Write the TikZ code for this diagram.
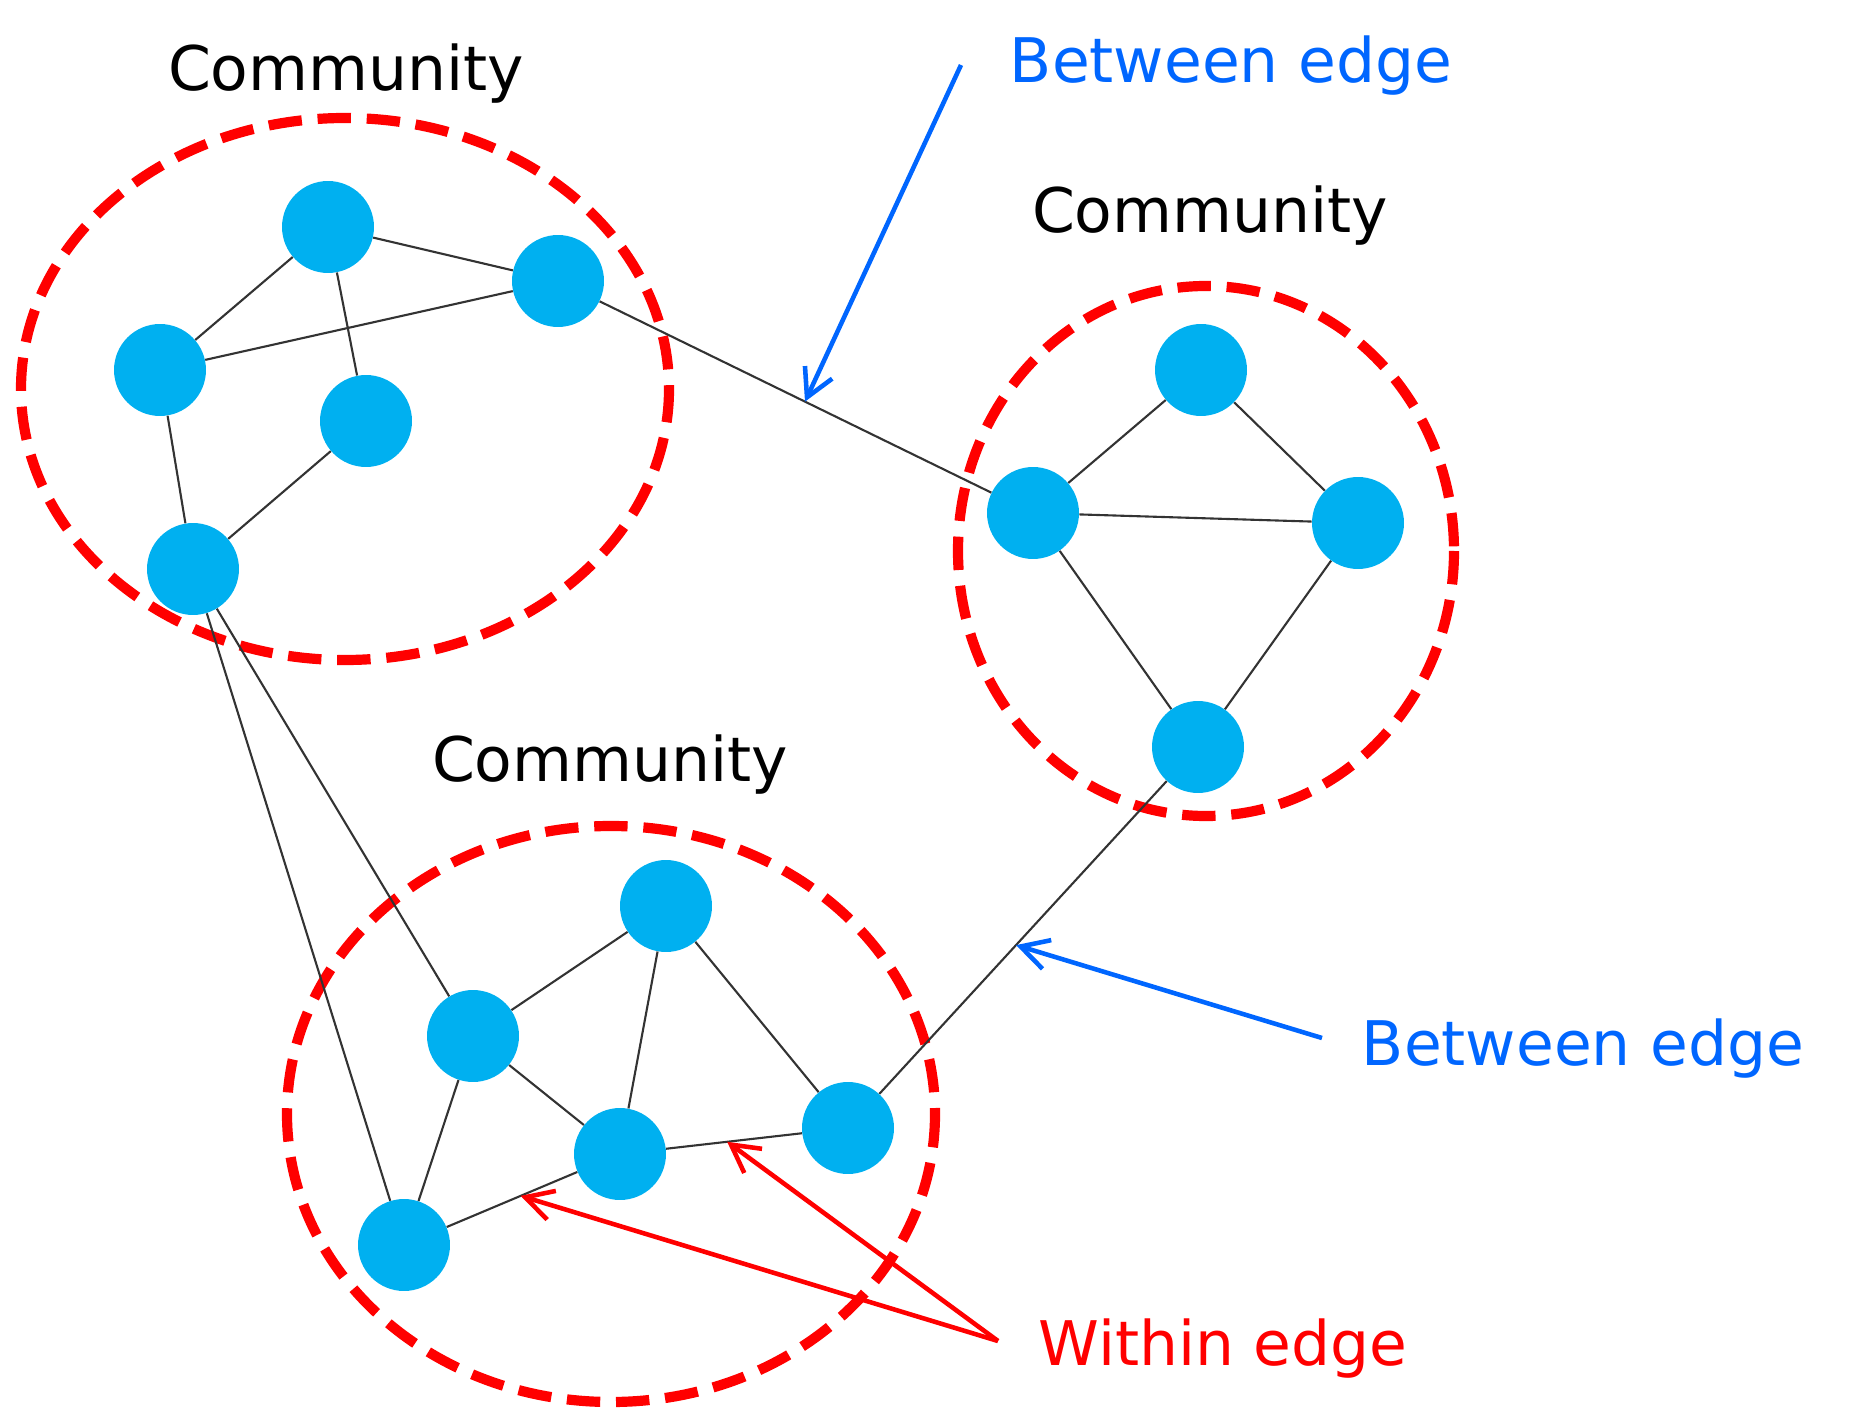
\documentclass[tikz,border=0pt]{standalone}
\usepackage{fontspec}
\setmainfont{DejaVu Sans}
\usetikzlibrary{arrows.meta,calc}
\definecolor{vertcyan}{RGB}{0,176,240}
\definecolor{betweenblue}{RGB}{0,102,255}
\definecolor{withinred}{RGB}{255,0,0}

\begin{document}
\begin{tikzpicture}[x=0.02cm,y=-0.02cm,
  vert/.style={circle,fill=vertcyan,minimum size=1.84cm,inner sep=0pt},
  link/.style={draw=black!80,line width=1.2pt},
  ring/.style={draw=withinred,line width=5.8pt,dash pattern=on 19pt off 9pt},
  lbl/.style={anchor=base,inner sep=0pt,font=\fontsize{35}{40}\selectfont},
  pointer/.style={line width=2.6pt,-{Straight Barb[length=0.55cm,width=0.6cm]}}]
\useasboundingbox (0,0) rectangle (1856,1408);
% the three communities
\draw[ring] (345,389) ellipse [x radius=324, y radius=271];
\draw[ring] (1206,551) ellipse [x radius=248, y radius=265];
\draw[ring] (611,1114) ellipse [x radius=324, y radius=288];
\node[lbl] (lblA) at (346,91) {Community};
\node[lbl] (lblB) at (1210,233) {Community};
\node[lbl] (lblC) at (610,781) {Community};
% left community
\node[vert] (a1) at (328,227) {};
\node[vert] (a2) at (558,281) {};
\node[vert] (a3) at (160,370) {};
\node[vert] (a4) at (366,421) {};
\node[vert] (a5) at (193,569) {};
% right community
\node[vert] (b1) at (1201,370) {};
\node[vert] (b2) at (1033,513) {};
\node[vert] (b3) at (1358,523) {};
\node[vert] (b4) at (1198,747) {};
% bottom community
\node[vert] (c1) at (666,906) {};
\node[vert] (c2) at (473,1036) {};
\node[vert] (c3) at (620,1154) {};
\node[vert] (c4) at (848,1128) {};
\node[vert] (c5) at (404,1245) {};
% within edges
\draw[link] (a1) -- (a2) (a1) -- (a3) (a3) -- (a2) (a1) -- (a4)
            (a3) -- (a5) (a4) -- (a5);
\draw[link] (b1) -- (b2) (b1) -- (b3) (b2) -- (b3) (b2) -- (b4) (b3) -- (b4);
\draw[link] (c1) -- (c2) (c1) -- (c3) (c1) -- (c4) (c2) -- (c3)
            (c2) -- (c5) (c5) -- (c3) (c3) -- (c4);
% between edges
\draw[link] (a2) -- (b2) (a5) -- (c5) (a5) -- (c2) (b4) -- (c4);
% labels and pointers
\node[lbl,text=betweenblue] (betA) at (1231,83) {Between edge};
\node[lbl,text=betweenblue] (betB) at (1583,1065) {Between edge};
\node[lbl,text=withinred] (within) at (1223,1365) {Within edge};
\coordinate (tailA) at (961,65);
\coordinate (tailB) at (1322,1038);
\coordinate (tailW) at (998,1341);
\draw[pointer,betweenblue] (tailA) -- ($(a2)!0.52!(b2)$);
\draw[pointer,betweenblue] (tailB) -- ($(b4)!0.52!(c4)$);
\draw[pointer,withinred] (tailW) -- ($(c5)!0.54!(c3)$);
\draw[pointer,withinred] (tailW) -- ($(c3)!0.47!(c4)$);
\end{tikzpicture}
\end{document}
